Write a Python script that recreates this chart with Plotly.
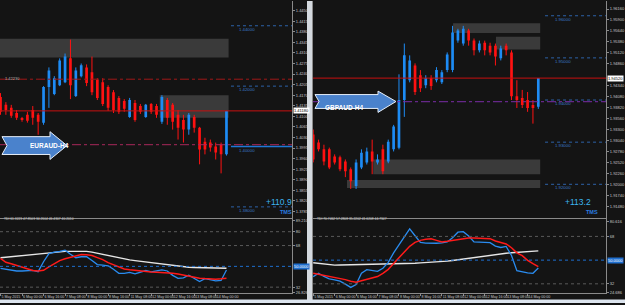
import plotly.graph_objects as go

W, H = 625, 305

# ---------------- data ----------------
candle_idx = list(range(43))
date_tick_idx = [0, 4, 8, 12, 16, 20, 24, 28, 32, 36, 40]
date_tick_text = ["5 May 2015", "6 May 00:00", "6 May 16:00", "7 May 08:00", "8 May 00:00",
                  "8 May 16:00", "11 May 08:00", "12 May 00:00", "12 May 16:00",
                  "13 May 08:00", "14 May 00:00"]

# EURAUD H4
eur_open = [1.4164, 1.4138, 1.4128, 1.4111, 1.4092, 1.4105, 1.4121, 1.4105, 1.4079, 1.4197,
            1.4174, 1.4203, 1.4213, 1.4292, 1.4167, 1.4233, 1.4262, 1.4246, 1.4220, 1.4213,
            1.4197, 1.4180, 1.4161, 1.4151, 1.4098, 1.4144, 1.4134, 1.4098, 1.4141, 1.4134,
            1.4082, 1.4154, 1.4138, 1.4105, 1.4088, 1.4056, 1.4098, 1.4062, 1.4016, 1.4013,
            1.4000, 1.4006, 1.3974]
eur_high = [1.4177, 1.4147, 1.4138, 1.4121, 1.4098, 1.4115, 1.4134, 1.4111, 1.4200, 1.4262,
            1.4233, 1.4292, 1.4308, 1.4354, 1.4262, 1.4275, 1.4272, 1.4298, 1.4226, 1.4226,
            1.4203, 1.4187, 1.4167, 1.4157, 1.4161, 1.4154, 1.4141, 1.4141, 1.4144, 1.4141,
            1.4170, 1.4161, 1.4144, 1.4121, 1.4105, 1.4111, 1.4105, 1.4065, 1.4029, 1.4023,
            1.4013, 1.4013, 1.4118]
eur_low = [1.4105, 1.4105, 1.4095, 1.4088, 1.4082, 1.4079, 1.4072, 1.4039, 1.4072, 1.4128,
           1.4170, 1.4200, 1.4210, 1.4157, 1.4164, 1.4229, 1.4200, 1.4170, 1.4154, 1.4134,
           1.4118, 1.4111, 1.4108, 1.4115, 1.4095, 1.4082, 1.4108, 1.4095, 1.4108, 1.4095,
           1.4075, 1.4072, 1.4056, 1.4023, 1.4013, 1.4039, 1.4046, 1.3941, 1.3974, 1.3983,
           1.3957, 1.3911, 1.3970]
eur_close = [1.4115, 1.4121, 1.4102, 1.4095, 1.4088, 1.4085, 1.4095, 1.4082, 1.4197, 1.4252,
             1.4226, 1.4285, 1.4298, 1.4203, 1.4252, 1.4269, 1.4210, 1.4180, 1.4161, 1.4141,
             1.4128, 1.4121, 1.4115, 1.4125, 1.4154, 1.4088, 1.4115, 1.4138, 1.4115, 1.4105,
             1.4164, 1.4095, 1.4082, 1.4062, 1.4056, 1.4105, 1.4062, 1.3990, 1.3990, 1.3997,
             1.3980, 1.3974, 1.4118]
eur_tdi_rsi = [48.3, 47.5, 46.5, 46, 46, 46.3, 46.6, 45.4, 54, 61, 62.4, 63, 64, 60.5, 57.5,
               58.3, 58.3, 55, 51.5, 51, 50.5, 47.5, 44, 44, 44.8, 43.5, 45, 46.4, 45.2, 45.8,
               46.9, 46, 42.2, 39.6, 40, 42.4, 39.5, 36.9, 39.3, 38.3, 37.5, 37.8, 46.8]
eur_tdi_signal = [57, 53.5, 52.3, 51, 49.5, 48, 46.5, 46, 46.6, 49.5, 52.5, 55, 56.6, 58, 59.3,
                  60.2, 60, 59.4, 57.6, 55.8, 53.2, 51.2, 49.7, 47.8, 47, 46.4, 45.8, 45.4,
                  45.1, 44.9, 44.8, 44.5, 44.1, 43.4, 42.5, 41.6, 40.5, 39.8, 39.4, 39, 38.9,
                  39.2, 39.7]
eur_tdi_base = [57.4, 57.9, 58.4, 59, 59.5, 60, 60.5, 61, 61.5, 62, 62.4, 62.7, 63, 63, 63, 63,
                63, 62.3, 61.3, 60.4, 59.4, 58.4, 57.4, 56.4, 55.6, 55, 54.4, 53.8, 53.1, 52.6,
                52, 51.4, 50.8, 50.2, 49.7, 49.2, 49, 48.9, 48.8, 48.7, 48.6, 48.5, 48.4]
eur_price_ticks = [1.4450, 1.4415, 1.4380, 1.4345, 1.4310, 1.4275, 1.4240, 1.4205, 1.4170,
                   1.4135, 1.4100, 1.4065, 1.4030, 1.3995, 1.3960, 1.3925, 1.3890, 1.3855,
                   1.3820, 1.3785]
eur_levels = [1.44, 1.42, 1.40, 1.38]
eur_level_labels = ["1.44000", "1.42000", "1.40000", "1.38000"]
eur_level_solid = [False, False, True, False]
eur_last = 1.4118
eur_line_red = 1.4223
eur_line_purple = 1.4006
eur_zone_start = [-0.1, 29.6]
eur_zone_end = [42.4, 42.4]
eur_zone_low = [1.4295, 1.4095]
eur_zone_high = [1.4357, 1.4170]
eur_pips = "+110.9"
eur_tdi_title = "TDI 61.3223 47.8503 34.2604 46.4307 40.2010"
eur_ind_levels = [80, 68, 32]

# GBPAUD H4
gbp_open = [1.9318, 1.9299, 1.9283, 1.9283, 1.9266, 1.9264, 1.9254, 1.9236, 1.9196, 1.9240,
            1.9252, 1.9278, 1.9252, 1.9283, 1.9254, 1.9283, 1.9287, 1.9400, 1.9447, 1.9482,
            1.9459, 1.9435, 1.9452, 1.9447, 1.9442, 1.9471, 1.9471, 1.9541, 1.9534, 1.9565,
            1.9541, 1.9518, 1.9536, 1.9529, 1.9529, 1.9499, 1.9529, 1.9513, 1.9409, 1.9405,
            1.9400, 1.9388, 1.9384]
gbp_high = [1.9330, 1.9306, 1.9294, 1.9287, 1.9271, 1.9268, 1.9259, 1.9240, 1.9259, 1.9283,
            1.9287, 1.9306, 1.9271, 1.9294, 1.9306, 1.9341, 1.9461, 1.9534, 1.9506, 1.9487,
            1.9471, 1.9459, 1.9459, 1.9478, 1.9471, 1.9513, 1.9576, 1.9569, 1.9576, 1.9569,
            1.9546, 1.9541, 1.9541, 1.9536, 1.9534, 1.9529, 1.9534, 1.9518, 1.9447, 1.9424,
            1.9419, 1.9400, 1.9452]
gbp_low = [1.9252, 1.9278, 1.9245, 1.9236, 1.9247, 1.9231, 1.9217, 1.9189, 1.9189, 1.9236,
           1.9247, 1.9224, 1.9247, 1.9224, 1.9250, 1.9278, 1.9283, 1.9360, 1.9442, 1.9412,
           1.9419, 1.9428, 1.9424, 1.9442, 1.9438, 1.9466, 1.9466, 1.9536, 1.9529, 1.9529,
           1.9506, 1.9513, 1.9506, 1.9506, 1.9482, 1.9494, 1.9506, 1.9400, 1.9381, 1.9381,
           1.9372, 1.9344, 1.9379]
gbp_close = [1.9259, 1.9283, 1.9254, 1.9240, 1.9252, 1.9236, 1.9231, 1.9207, 1.9252, 1.9275,
             1.9278, 1.9254, 1.9259, 1.9231, 1.9301, 1.9337, 1.9400, 1.9506, 1.9494, 1.9419,
             1.9428, 1.9452, 1.9433, 1.9471, 1.9466, 1.9508, 1.9560, 1.9565, 1.9569, 1.9541,
             1.9518, 1.9534, 1.9518, 1.9513, 1.9503, 1.9522, 1.9518, 1.9409, 1.9400, 1.9388,
             1.9381, 1.9381, 1.9452]
gbp_tdi_rsi = [37.5, 40, 37.6, 35.7, 35, 34, 31.8, 29.3, 31.5, 40, 42.8, 42.4, 41.5, 43.8, 48.3,
               55.5, 61.5, 67.5, 73.8, 68.5, 63.4, 62.9, 62.7, 62.8, 63.1, 63.8, 67, 71.2, 71.6,
               68.3, 63.8, 63.8, 63.6, 63.3, 60.7, 59.6, 60.4, 53.5, 42, 40.9, 40.3, 40, 44]
gbp_tdi_signal = [40, 39.2, 38.5, 37.7, 37, 36.1, 35.2, 34, 33.2, 34.3, 35.3, 36.2, 37.5, 40, 43,
                  47.5, 52, 56.5, 60.5, 63.5, 65, 65.9, 66.2, 65, 63.8, 64.3, 65, 65.8, 66.6,
                  66.8, 66.8, 66.8, 66.6, 66.3, 64.5, 63.4, 62.3, 59.4, 55.5, 53.4, 49.8, 47.3, 45]
gbp_tdi_base = [48, 47.5, 47, 46.4, 46.2, 46.3, 46.4, 46.5, 46.6, 46.7, 46.8, 46.8, 46.8, 46.8,
                46.8, 46.8, 47, 47.2, 47.4, 47.6, 47.9, 48.1, 48.3, 48.5, 48.7, 49.2, 49.7, 50.3,
                50.9, 51.5, 52, 52.5, 53, 53.5, 54.1, 54.7, 55.2, 55.6, 55.9, 56.3, 56.6, 56.8, 57]
gbp_price_ticks = [1.9616, 1.9590, 1.9564, 1.9538, 1.9512, 1.9486, 1.9434, 1.9408,
                   1.9382, 1.9356, 1.9330, 1.9304, 1.9278, 1.9252, 1.9226, 1.9200, 1.9174,
                   1.9148]
gbp_levels = [1.96, 1.95, 1.94, 1.93, 1.92]
gbp_level_labels = ["1.96000", "1.95000", "1.94000", "1.93000", "1.92000"]
gbp_last = 1.9452
gbp_line_purple = 1.9396
gbp_zone_start = [26.1, 34.1, 11.2, 6.3]
gbp_zone_end = [42.35, 42.35, 42.35, 42.35]
gbp_zone_low = [1.9559, 1.9520, 1.9224, 1.9191]
gbp_zone_high = [1.9582, 1.9550, 1.9259, 1.9210]
gbp_pips = "+113.2"
gbp_tdi_title = "TDI 70.7462 57.2808 35.2202 41.6208 44.7347"
gbp_ind_levels = [68, 32]

# ---------------- style ----------------
BG = "#141414"
UP = "#1e8cf5"
DN = "#ff1212"
AX = "#8a8a8a"
TXT = "#c8c8c8"
LVL = "#2d62a8"
FONT = "Liberation Sans"
TICK_FS = 4


def fx(p):
    return p / W


def fy(p):
    return 1 - p / H


fig = go.Figure()


def add_candles(o, h, l, c, xa, ya):
    up = [ci >= oi for oi, ci in zip(o, c)]
    for flag, col in ((True, UP), (False, DN)):
        xs, ys = [], []
        for i in candle_idx:
            if up[i] == flag:
                xs += [i, i, None]
                ys += [l[i], h[i], None]
        fig.add_trace(go.Scatter(x=xs, y=ys, mode="lines", line=dict(color=col, width=1),
                                 xaxis=xa, yaxis=ya, hoverinfo="skip", showlegend=False))
    base = [min(oi, ci) for oi, ci in zip(o, c)]
    hgt = [abs(ci - oi) for oi, ci in zip(o, c)]
    cols = [UP if u else DN for u in up]
    fig.add_trace(go.Bar(x=candle_idx, y=hgt, base=base, width=0.5,
                         marker=dict(color=cols, line=dict(width=0)),
                         xaxis=xa, yaxis=ya, hoverinfo="skip", showlegend=False))


def add_tdi(base, sig, rsi, xa, ya):
    fig.add_trace(go.Scatter(x=candle_idx, y=base, mode="lines", line=dict(color="#e6e6e6", width=1.4),
                             xaxis=xa, yaxis=ya, hoverinfo="skip", showlegend=False))
    fig.add_trace(go.Scatter(x=candle_idx, y=rsi, mode="lines", line=dict(color="#2a8cf0", width=1.3),
                             xaxis=xa, yaxis=ya, hoverinfo="skip", showlegend=False))
    fig.add_trace(go.Scatter(x=candle_idx, y=sig, mode="lines", line=dict(color="#ff1a1a", width=1.5),
                             xaxis=xa, yaxis=ya, hoverinfo="skip", showlegend=False))


add_candles(eur_open, eur_high, eur_low, eur_close, "x", "y")
add_tdi(eur_tdi_base, eur_tdi_signal, eur_tdi_rsi, "x2", "y2")
add_candles(gbp_open, gbp_high, gbp_low, gbp_close, "x3", "y3")
add_tdi(gbp_tdi_base, gbp_tdi_signal, gbp_tdi_rsi, "x4", "y4")

# pixel layout
L0, L1 = 0, 292
R0, R1 = 313, 606
M0, M1 = 0, 219
I0, I1 = 220, 295

x_left_range = [-0.093, 54.18]
x_right_range = [-0.04, 54.63]


def xmain(dom, rng, anchor):
    return dict(domain=dom, range=rng, anchor=anchor, showticklabels=False, showgrid=False,
                zeroline=False, showline=False, ticks="", fixedrange=True)


def xind(dom, rng, anchor):
    return dict(domain=dom, range=rng, anchor=anchor, tickvals=date_tick_idx, ticktext=date_tick_text,
                ticklabelposition="outside right", tickangle=0, ticks="outside", ticklen=2,
                tickcolor=AX, showline=True, mirror=True, linecolor=AX, linewidth=1, showgrid=False,
                zeroline=False, tickfont=dict(size=3.6, color=TXT, family=FONT), fixedrange=True)


def yax(dom, rng, anchor, tv, tt):
    return dict(domain=dom, range=rng, anchor=anchor, side="right", tickvals=tv, ticktext=tt,
                ticks="outside", ticklen=2, tickcolor=AX, showline=True, linecolor=AX, linewidth=1,
                showgrid=False, zeroline=False, tickfont=dict(size=TICK_FS, color=TXT, family=FONT),
                fixedrange=True)


main_dom = [fy(M1), fy(M0)]
ind_dom = [fy(I1), fy(I0)]

fig.update_layout(
    xaxis=xmain([fx(L0), fx(L1)], x_left_range, "y"),
    xaxis2=xind([fx(L0), fx(L1)], x_left_range, "y2"),
    xaxis3=xmain([fx(R0), fx(R1)], x_right_range, "y3"),
    xaxis4=xind([fx(R0), fx(R1)], x_right_range, "y4"),
    yaxis=yax(main_dom, [1.37637, 1.4482], "x", eur_price_ticks, [f"{v:.5f}" for v in eur_price_ticks]),
    yaxis2=yax(ind_dom, [26.86, 91.13], "x2", [27.5, 32, 68, 80, 89.5],
               ["26.826", "32", "68", "80", "89.210"]),
    yaxis3=yax(main_dom, [1.91204, 1.9635], "x3", gbp_price_ticks, [f"{v:.5f}" for v in gbp_price_ticks]),
    yaxis4=yax(ind_dom, [24.96, 81.35], "x4", [25.6, 32, 68, 79.6], ["24.686", "32", "68", "80.616"]),
)

shapes = []
annots = []

# zones
for x0, x1, lo, hi in zip(eur_zone_start, eur_zone_end, eur_zone_low, eur_zone_high):
    shapes.append(dict(type="rect", xref="x", yref="y", x0=x0, x1=x1, y0=lo, y1=hi,
                       fillcolor="#3a3a3a", line=dict(width=0), layer="below"))
for x0, x1, lo, hi in zip(gbp_zone_start, gbp_zone_end, gbp_zone_low, gbp_zone_high):
    shapes.append(dict(type="rect", xref="x3", yref="y3", x0=x0, x1=x1, y0=lo, y1=hi,
                       fillcolor="#3a3a3a", line=dict(width=0), layer="below"))

# level lines with labels
for lv, lab, solid in zip(eur_levels, eur_level_labels, eur_level_solid):
    shapes.append(dict(type="line", xref="x domain", yref="y", x0=0.791, x1=1, y0=lv, y1=lv,
                       line=dict(color="#1e78d8" if solid else LVL, width=1.5 if solid else 1,
                                 dash="solid" if solid else "dot")))
    annots.append(dict(xref="x domain", yref="y", x=0.88, y=lv, yshift=-3.5, text=lab, showarrow=False,
                       font=dict(size=4.3, color="#3a78c8", family=FONT)))
for lv, lab in zip(gbp_levels, gbp_level_labels):
    shapes.append(dict(type="line", xref="x3 domain", yref="y3", x0=0.792, x1=1, y0=lv, y1=lv,
                       line=dict(color=LVL, width=1, dash="dot")))
    annots.append(dict(xref="x3 domain", yref="y3", x=0.887, y=lv, yshift=-3.5, text=lab, showarrow=False,
                       font=dict(size=4.3, color="#3a78c8", family=FONT)))

# current price lines and dash-dot lines
shapes.append(dict(type="line", xref="x domain", yref="y", x0=0, x1=1, y0=eur_last, y1=eur_last,
                   line=dict(color="#c81010", width=1)))
shapes.append(dict(type="line", xref="x domain", yref="y", x0=0, x1=1, y0=eur_line_red, y1=eur_line_red,
                   line=dict(color="#a01818", width=1, dash="dashdot")))
shapes.append(dict(type="line", xref="x domain", yref="y", x0=0, x1=1, y0=eur_line_purple,
                   y1=eur_line_purple, line=dict(color="#a8285a", width=1, dash="dashdot")))
shapes.append(dict(type="line", xref="x3 domain", yref="y3", x0=0, x1=1, y0=gbp_last, y1=gbp_last,
                   line=dict(color="#c81010", width=1)))
shapes.append(dict(type="line", xref="x3 domain", yref="y3", x0=0, x1=1, y0=gbp_line_purple,
                   y1=gbp_line_purple, line=dict(color="#7a2ca8", width=1, dash="dashdot")))
annots.append(dict(xref="paper", yref="y", x=fx(3), y=eur_line_red, xanchor="left", yshift=1,
                   text="1.42230", showarrow=False, font=dict(size=4, color="#b8b8b8", family=FONT)))

# indicator levels
for lv in eur_ind_levels:
    shapes.append(dict(type="line", xref="x2 domain", yref="y2", x0=0, x1=1, y0=lv, y1=lv,
                       line=dict(color="#5a5a5a", width=1, dash="dot")))
shapes.append(dict(type="line", xref="x2 domain", yref="y2", x0=0, x1=1, y0=50, y1=50,
                   line=dict(color="#1e6fd0", width=1, dash="dot")))
for lv in gbp_ind_levels:
    shapes.append(dict(type="line", xref="x4 domain", yref="y4", x0=0, x1=1, y0=lv, y1=lv,
                       line=dict(color="#5a5a5a", width=1, dash="dot")))
shapes.append(dict(type="line", xref="x4 domain", yref="y4", x0=0, x1=1, y0=50, y1=50,
                   line=dict(color="#1e6fd0", width=1, dash="dot")))

# axis value boxes
annots.append(dict(xref="paper", yref="y", x=fx(293), y=eur_last, xanchor="left", text=f"{eur_last:.5f}",
                   showarrow=False, bgcolor="#ffffff", borderpad=0,
                   font=dict(size=TICK_FS, color="#000000", family=FONT)))
annots.append(dict(xref="paper", yref="y3", x=fx(607), y=gbp_last, xanchor="left", text=f"{gbp_last:.5f}",
                   showarrow=False, bgcolor="#ffffff", borderpad=0,
                   font=dict(size=TICK_FS, color="#000000", family=FONT)))
annots.append(dict(xref="paper", yref="y2", x=fx(293), y=50, xanchor="left", text="50.0000",
                   showarrow=False, bgcolor="#1f6fd0", borderpad=0,
                   font=dict(size=TICK_FS, color="#ffffff", family=FONT)))
annots.append(dict(xref="paper", yref="y4", x=fx(607), y=50, xanchor="left", text="50.0000",
                   showarrow=False, bgcolor="#1f6fd0", borderpad=0,
                   font=dict(size=TICK_FS, color="#ffffff", family=FONT)))

# pips + TMS
for xc, txt in ((279, eur_pips), (593, gbp_pips)):
    annots.append(dict(xref="paper", yref="paper", x=fx(xc), y=fy(210), text=txt, showarrow=False,
                       font=dict(size=8.5, color="#3cb4f0", family=FONT)))
for xc in (286, 600):
    annots.append(dict(xref="paper", yref="paper", x=fx(xc), y=fy(218.5), text="<b>TMS</b>",
                       showarrow=False, font=dict(size=5.5, color="#2a7de0", family=FONT)))

# TDI titles
annots.append(dict(xref="paper", yref="paper", x=fx(2), y=fy(224.5), xanchor="left", text=eur_tdi_title,
                   showarrow=False, font=dict(size=3.3, color="#d0d0d0", family=FONT)))
annots.append(dict(xref="paper", yref="paper", x=fx(315), y=fy(224.5), xanchor="left", text=gbp_tdi_title,
                   showarrow=False, font=dict(size=3.3, color="#d0d0d0", family=FONT)))


# arrows (decorations)
def arrow_path(xl, bt, bb, hx, ht, hb, tip_x, tip_y, notch):
    pts = [(xl, bt), (hx, bt), (hx, ht), (tip_x, tip_y), (hx, hb), (hx, bb), (xl, bb), (xl + notch, tip_y)]
    return "M " + " L ".join(f"{fx(a):.5f},{fy(b):.5f}" for a, b in pts) + " Z"


shapes.append(dict(type="path", xref="paper", yref="paper",
                   path=arrow_path(2, 137, 155, 50, 132, 160, 67, 146, 5),
                   fillcolor="#4a82cc", line=dict(color="#e6eef8", width=1)))
shapes.append(dict(type="path", xref="paper", yref="paper",
                   path=arrow_path(315, 94.5, 108.5, 378, 91, 112.5, 396, 101.5, 4),
                   fillcolor="#4a82cc", line=dict(color="#e6eef8", width=1)))
annots.append(dict(xref="paper", yref="paper", x=fx(28), y=fy(146), text="<b>EURAUD-H4</b>", showarrow=False,
                   font=dict(size=6.5, color="#ffffff", family=FONT)))
annots.append(dict(xref="paper", yref="paper", x=fx(344), y=fy(101.5), text="<b>GBPAUD-H4</b>",
                   showarrow=False, font=dict(size=6.5, color="#ffffff", family=FONT)))

# window frame pieces
shapes.append(dict(type="rect", xref="paper", yref="paper", x0=fx(307), x1=fx(312), y0=0, y1=1,
                   fillcolor="#d4d9df", line=dict(width=0), layer="above"))
shapes.append(dict(type="line", xref="paper", yref="paper", x0=fx(312.5), x1=fx(312.5), y0=0, y1=1,
                   line=dict(color="#8a8a8a", width=1), layer="above"))
shapes.append(dict(type="rect", xref="paper", yref="paper", x0=0, x1=1, y0=0, y1=fy(301.5),
                   fillcolor="#dce4ee", line=dict(width=0), layer="above"))

fig.update_layout(
    width=W, height=H, margin=dict(l=0, r=0, t=0, b=0),
    paper_bgcolor=BG, plot_bgcolor=BG, showlegend=False, barmode="overlay",
    font=dict(family=FONT, size=5, color=TXT),
    shapes=shapes, annotations=annots,
)

fig.write_html("out.html")
